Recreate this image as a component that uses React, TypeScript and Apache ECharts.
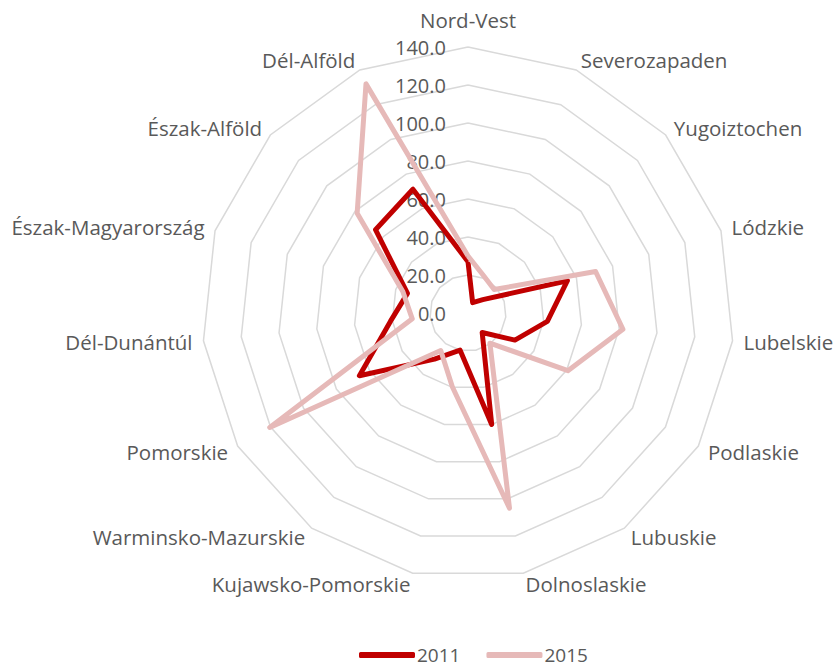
import React, { useEffect, useRef } from "react";
import * as echarts from "echarts";

const categories = [
  "Nord-Vest",
  "Severozapaden",
  "Yugoiztochen",
  "Lódzkie",
  "Lubelskie",
  "Podlaskie",
  "Lubuskie",
  "Dolnoslaskie",
  "Kujawsko-Pomorskie",
  "Warminsko-Mazurskie",
  "Pomorskie",
  "Dél-Dunántúl",
  "Észak-Magyarország",
  "Észak-Alföld",
  "Dél-Alföld",
];

const values2011 = [27, 6, 10.5, 55, 42, 28.5, 12.7, 60, 20, 30, 66, 41, 33.5, 65.5, 71.3];
const values2015 = [30, 21, 18.5, 70.6, 82, 60.7, 19.6, 105, 39.7, 24.4, 120.5, 29.5, 36, 78.5, 132];

const axisMin = 0;
const axisMax = 140;
const axisStep = 20;

const FONT = "'Open Sans', 'Noto Sans', sans-serif";
const TEXT = "#595959";

export default function App() {
  const ref = useRef<HTMLDivElement>(null);

  useEffect(() => {
    if (!ref.current) return;
    const chart = echarts.init(ref.current, undefined, { renderer: "svg" });

    // ECharts radar places indicators counter-clockwise; reorder to get clockwise layout
    const order = categories.map((_, i) => (i === 0 ? 0 : categories.length - i));
    const reorder = (arr: number[]) => order.map((i) => arr[i]);

    const center = [468, 313];
    const radius = 266;

    chart.setOption({
      animation: false,
      textStyle: { fontFamily: FONT },
      legend: {
        top: 640,
        left: 354,
        icon: "roundRect",
        itemWidth: 56,
        itemHeight: 6,
        itemGap: 26,
        textStyle: { color: TEXT, fontSize: 19, lineHeight: 20, fontFamily: FONT, padding: [0, 0, 0, -3] },
        data: ["2011", "2015"],
      },
      radar: {
        center,
        radius,
        startAngle: 90,
        shape: "polygon",
        splitNumber: (axisMax - axisMin) / axisStep,
        nameGap: 11,
        axisName: {
          color: TEXT,
          fontSize: 20.5,
          fontFamily: FONT,
          formatter: (name: string) => (name === categories[0] ? `{top|${name}}` : name),
          rich: {
            top: { color: TEXT, fontSize: 20.5, fontFamily: FONT, padding: [0, 0, 6, 0] },
          },
        },
        axisLine: { show: false },
        axisTick: { show: false },
        axisLabel: { show: false },
        splitArea: { show: false },
        splitLine: { lineStyle: { color: "#d9d9d9", width: 1.5 } },
        indicator: order.map((i) => ({ name: categories[i], min: axisMin, max: axisMax })),
      },
      polar: { center, radius },
      angleAxis: {
        show: false,
        startAngle: 90,
        min: 0,
        max: 360,
      },
      radiusAxis: {
        min: axisMin,
        max: axisMax,
        interval: axisStep,
        axisLine: { show: false },
        axisTick: { show: false },
        splitLine: { show: false },
        axisLabel: {
          show: true,
          color: TEXT,
          fontSize: 20,
          fontFamily: FONT,
          margin: 22,
          formatter: (v: number) => v.toFixed(1),
        },
      },
      series: [
        {
          type: "radar",
          symbol: "none",
          data: [
            {
              name: "2011",
              value: reorder(values2011),
              lineStyle: { color: "#C00000", width: 5 },
              itemStyle: { color: "#C00000" },
            },
            {
              name: "2015",
              value: reorder(values2015),
              lineStyle: { color: "#E6B9B8", width: 5 },
              itemStyle: { color: "#E6B9B8" },
            },
          ],
          z: 3,
        },
      ],
    });

    return () => chart.dispose();
  }, []);

  return (
    <div
      ref={ref}
      style={{ position: "absolute", left: 0, top: 0, width: 833, height: 667 }}
    />
  );
}
